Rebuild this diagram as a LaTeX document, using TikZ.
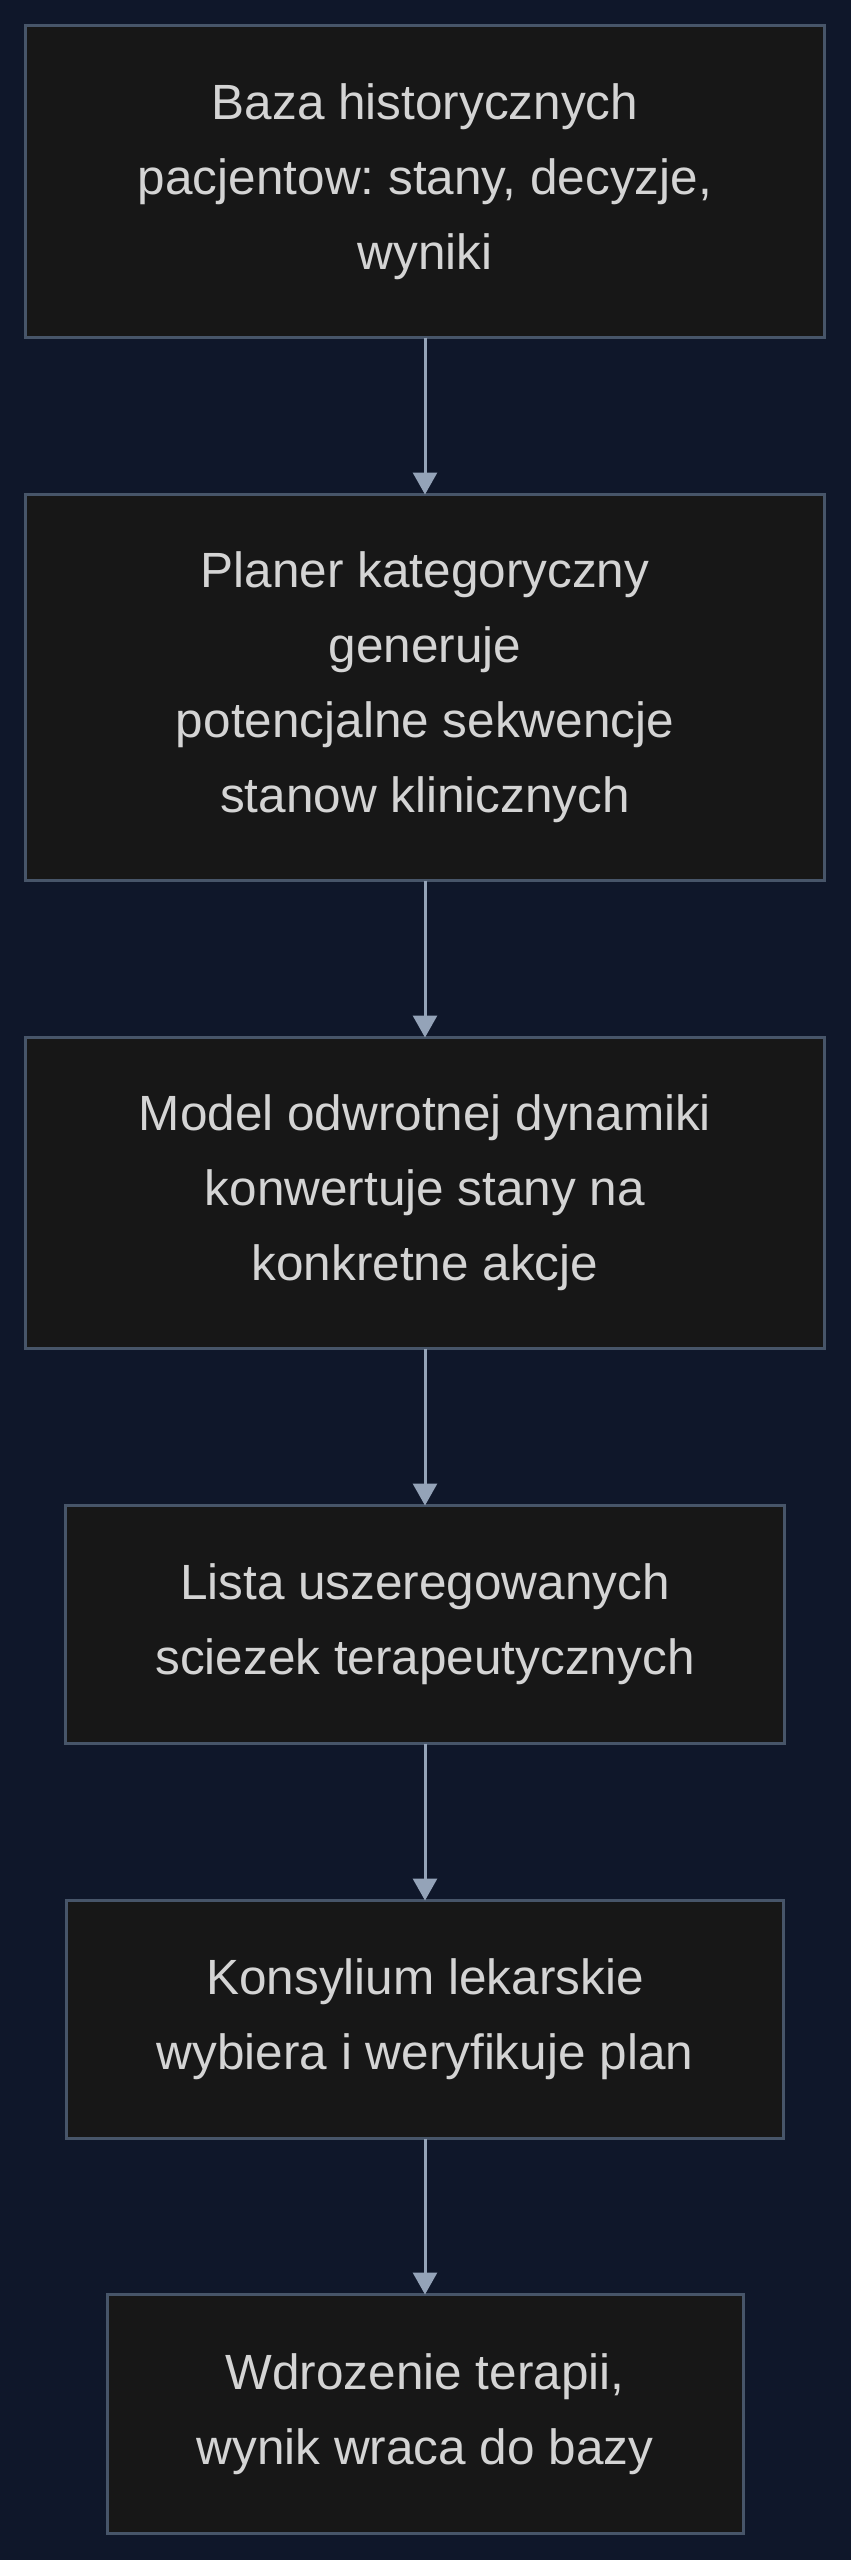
\documentclass[tikz,border=0pt]{standalone}
\usepackage{fontspec}
\setmainfont{Liberation Sans}
\usetikzlibrary{arrows.meta}
\definecolor{bgc}{RGB}{15,23,42}
\definecolor{boxfill}{RGB}{23,23,23}
\definecolor{boxline}{RGB}{71,85,105}
\definecolor{arrowc}{RGB}{148,163,184}
\definecolor{txtc}{RGB}{212,212,212}
\frenchspacing
\begin{document}
\begin{tikzpicture}[x=1pt,y=-1pt,
  stepbox/.style={draw=boxline,fill=boxfill,line width=3pt,rectangle,
    inner sep=0pt,outer sep=0pt,align=center,text=txtc,
    font=\fontsize{49.5}{75}\selectfont\frenchspacing},
  flow/.style={draw=arrowc,line width=3pt,
    -{Triangle[width=24pt,length=22pt]}}]
\useasboundingbox (0,0) rectangle (851,2560);
\fill[bgc] (0,0) rectangle (851,2560);
\node[stepbox,minimum width=799pt,minimum height=312pt] (n1) at (425,181.5)
  {Baza historycznych\\pacjentow: stany, decyzje,\\wyniki};
\node[stepbox,minimum width=799pt,minimum height=386pt] (n2) at (425,687.5)
  {Planer kategoryczny\\generuje\\potencjalne sekwencje\\stanow klinicznych};
\node[stepbox,minimum width=799pt,minimum height=311pt] (n3) at (425,1193)
  {Model odwrotnej dynamiki\\konwertuje stany na\\konkretne akcje};
\node[stepbox,minimum width=719pt,minimum height=238pt] (n4) at (425,1624.5)
  {Lista uszeregowanych\\sciezek terapeutycznych};
\node[stepbox,minimum width=717pt,minimum height=238pt] (n5) at (425,2019.5)
  {Konsylium lekarskie\\wybiera i weryfikuje plan};
\node[stepbox,minimum width=636pt,minimum height=239pt] (n6) at (425,2414)
  {Wdrozenie terapii,\\wynik wraca do bazy};
\draw[flow] (n1.south) -- (n2.north);
\draw[flow] (n2.south) -- (n3.north);
\draw[flow] (n3.south) -- (n4.north);
\draw[flow] (n4.south) -- (n5.north);
\draw[flow] (n5.south) -- (n6.north);
\end{tikzpicture}
\end{document}
